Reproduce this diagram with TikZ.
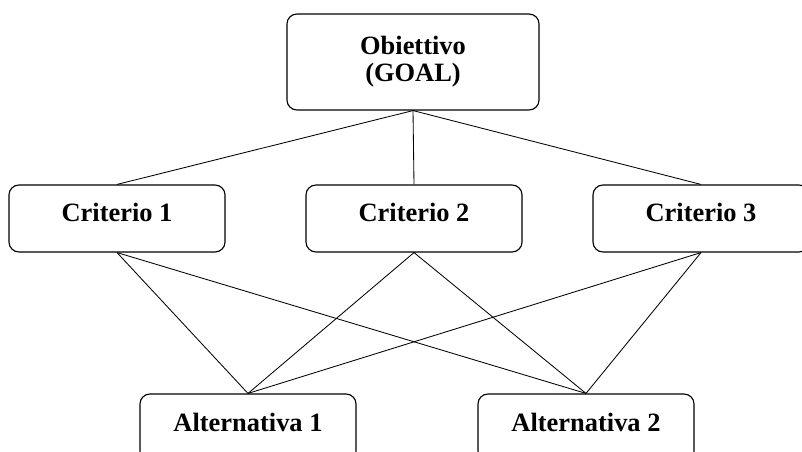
\documentclass[tikz,border=0pt]{standalone}
\usepackage{fontspec}
\setmainfont{Liberation Serif}

\begin{document}
\begin{tikzpicture}[x=0.025cm, y=-0.025cm]
\tikzset{boite/.style={draw, rounded corners=0.25cm, line width=0.8pt, inner sep=0pt, minimum width=5.4cm, minimum height=1.675cm, text height=0.4cm, text depth=0.225cm, font=\fontsize{18.8}{19.2}\selectfont\bfseries}}
\tikzset{lien/.style={line width=0.6pt}}
\useasboundingbox (0, 0) rectangle (802, 452);
\clip (0, 0) rectangle (802, 452);
\node[boite, minimum width=6.3cm, minimum height=2.4cm, text height=, text depth=, align=center] (G) at (413, 62) {Obiettivo\\(GOAL)};
\node[boite] (C1) at (117, 218.5) {Criterio 1};
\node[boite] (C2) at (414, 218.5) {Criterio 2};
\node[boite] (C3) at (701, 218.5) {Criterio 3};
\node[boite] (A1) at (248, 427.5) {Alternativa 1};
\node[boite] (A2) at (586, 427.5) {Alternativa 2};
\draw[lien] (G.south) -- (C1.north);
\draw[lien] (G.south) -- (C2.north);
\draw[lien] (G.south) -- (C3.north);
\draw[lien] (C1.south) -- (A1.north);
\draw[lien] (C1.south) -- (A2.north);
\draw[lien] (C2.south) -- (A1.north);
\draw[lien] (C2.south) -- (A2.north);
\draw[lien] (C3.south) -- (A1.north);
\draw[lien] (C3.south) -- (A2.north);
\end{tikzpicture}
\end{document}
